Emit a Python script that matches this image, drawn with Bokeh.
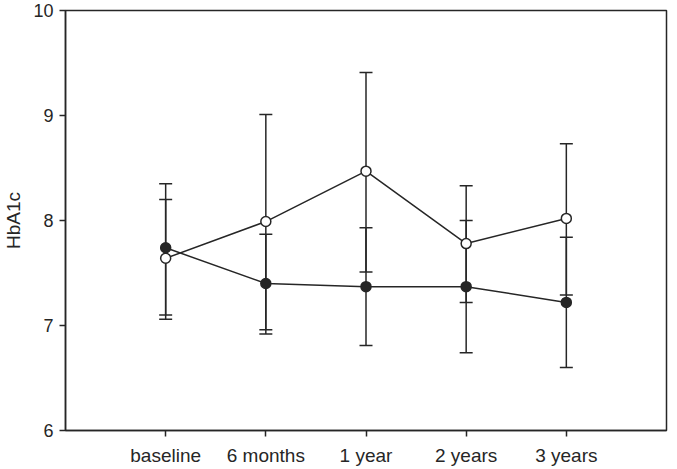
from bokeh.plotting import figure
from bokeh.models import ColumnDataSource, Whisker, TeeHead, FixedTicker, Range1d
from bokeh.embed import file_html
from bokeh.resources import INLINE

# ---- data ----
timepoints = ["baseline", "6 months", "1 year", "2 years", "3 years"]
xpos = [1, 2, 3, 4, 5]

open_mean = [7.64, 7.99, 8.47, 7.78, 8.02]
open_upper = [8.20, 9.01, 9.41, 8.33, 8.73]
open_lower = [7.06, 6.96, 7.51, 7.22, 7.29]

filled_mean = [7.74, 7.40, 7.37, 7.37, 7.22]
filled_upper = [8.35, 7.87, 7.93, 8.00, 7.84]
filled_lower = [7.10, 6.92, 6.81, 6.74, 6.60]

y_ticks = [6, 7, 8, 9, 10]

INK = "#262626"
FONT = "Liberation Sans"

p = figure(width=668, height=468, output_backend="svg", toolbar_location=None,
           x_range=Range1d(0, 6), y_range=Range1d(6, 10),
           min_border_left=10, min_border_right=2, min_border_top=10, min_border_bottom=0)

p.xgrid.visible = False
p.ygrid.visible = False
p.outline_line_color = INK
p.outline_line_width = 1.5
p.background_fill_color = "white"
p.border_fill_color = "white"

src_open = ColumnDataSource(dict(x=xpos, y=open_mean, up=open_upper, lo=open_lower))
src_fill = ColumnDataSource(dict(x=xpos, y=filled_mean, up=filled_upper, lo=filled_lower))

for src in (src_open, src_fill):
    w = Whisker(source=src, base="x", upper="up", lower="lo", dimension="height",
                line_color=INK, line_width=1.5,
                upper_head=TeeHead(size=13, line_color=INK, line_width=1.5),
                lower_head=TeeHead(size=13, line_color=INK, line_width=1.5))
    p.add_layout(w)

p.line("x", "y", source=src_open, line_color=INK, line_width=1.5)
p.line("x", "y", source=src_fill, line_color=INK, line_width=1.5)

p.scatter("x", "y", source=src_open, size=10, fill_color="white", line_color=INK, line_width=1.5)
p.scatter("x", "y", source=src_fill, size=10, fill_color=INK, line_color=INK, line_width=1.5)

# axes
p.xaxis.ticker = FixedTicker(ticks=xpos)
p.xaxis.major_label_overrides = {x: t for x, t in zip(xpos, timepoints)}
p.yaxis.ticker = FixedTicker(ticks=y_ticks)
p.yaxis.axis_label = "HbA1c"

for ax in (p.xaxis[0], p.yaxis[0]):
    ax.axis_line_color = INK
    ax.axis_line_width = 1.5
    ax.major_tick_line_color = INK
    ax.major_tick_line_width = 1.5
    ax.major_tick_in = 0
    ax.major_tick_out = 6
    ax.minor_tick_line_color = None
    ax.major_label_text_font = FONT
    ax.major_label_text_color = INK
    ax.axis_label_text_font = FONT
    ax.axis_label_text_color = INK
    ax.axis_label_text_font_style = "normal"

p.xaxis.major_label_text_font_size = "19px"
p.yaxis.major_label_text_font_size = "18px"
p.yaxis.axis_label_text_font_size = "19px"
p.xaxis.major_label_standoff = 8
p.yaxis.major_label_standoff = 6
p.yaxis.axis_label_standoff = 6

open("out.html", "w").write(file_html(p, INLINE))
